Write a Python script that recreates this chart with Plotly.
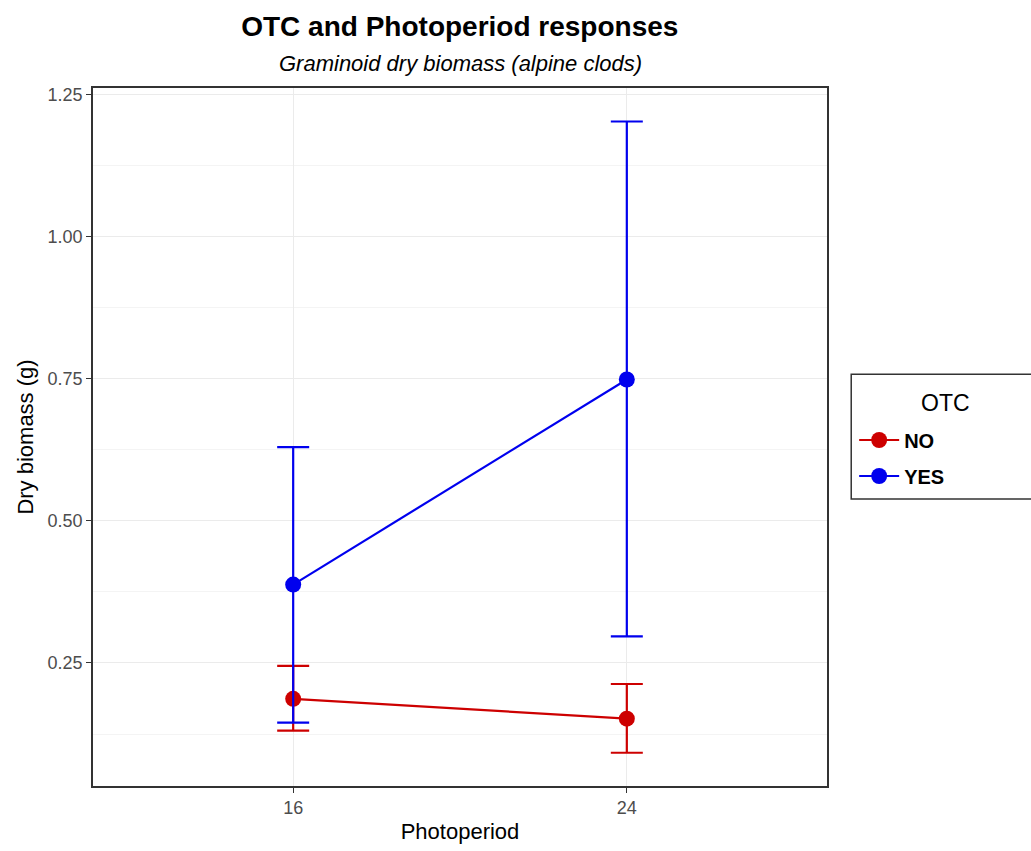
import plotly.graph_objects as go

photoperiod = ["16", "24"]
otc_groups = ["NO", "YES"]
mean_no = [0.187, 0.152]
upper_no = [0.245, 0.213]
lower_no = [0.131, 0.092]
mean_yes = [0.388, 0.749]
upper_yes = [0.630, 1.203]
lower_yes = [0.145, 0.297]
colors = {"NO": "#CD0000", "YES": "#0000EE"}

FONT = "Liberation Sans, Arial, sans-serif"

fig = go.Figure()
for name, m, up, lo, lg in [("NO", mean_no, upper_no, lower_no, "legend"),
                            ("YES", mean_yes, upper_yes, lower_yes, "legend2")]:
    fig.add_trace(go.Scatter(
        x=photoperiod, y=m, name="<b>" + name + "</b>", mode="lines+markers",
        line=dict(color=colors[name], width=2.2),
        marker=dict(color=colors[name], size=16),
        legend=lg,
        error_y=dict(type="data", symmetric=False,
                     array=[u - v for u, v in zip(up, m)],
                     arrayminus=[v - l for v, l in zip(m, lo)],
                     color=colors[name], thickness=2.2, width=16),
    ))

leg_common = dict(xanchor="left", yanchor="middle", bgcolor="rgba(0,0,0,0)", borderwidth=0,
                  font=dict(size=20, color="black", family=FONT), itemwidth=40)

fig.update_layout(
    width=1031, height=851,
    margin=dict(l=93, r=204, t=88, b=65),
    paper_bgcolor="white", plot_bgcolor="white",
    font=dict(family=FONT, color="#1a1a1a"),
    title=dict(text="<b>OTC and Photoperiod responses</b>", x=0.446, xanchor="center",
               y=0.969, yanchor="middle", font=dict(size=28, color="black")),
    showlegend=True,
    legend=dict(x=1.037, y=(786 - 440) / 698, **leg_common),
    legend2=dict(x=1.037, y=(786 - 476) / 698, **leg_common),
    xaxis=dict(type="category", range=[-0.6, 1.6], showgrid=True, gridcolor="#EBEBEB", gridwidth=1.2,
               ticks="outside", ticklen=5, tickcolor="#333333", tickfont=dict(size=18, color="#4D4D4D"),
               showline=True, linecolor="#333333", linewidth=1.5, mirror=True, zeroline=False,
               title=dict(text="Photoperiod", font=dict(size=22, color="black"), standoff=6)),
    yaxis=dict(range=[0.0335, 1.262], tickvals=[0.25, 0.5, 0.75, 1.0, 1.25],
               ticktext=["0.25", "0.50", "0.75", "1.00", "1.25"],
               showgrid=True, gridcolor="#EBEBEB", gridwidth=1.2,
               minor=dict(tickvals=[0.125, 0.375, 0.625, 0.875, 1.125], showgrid=True,
                          gridcolor="#F4F4F4", gridwidth=1, ticks=""),
               ticks="outside", ticklen=5, tickcolor="#333333", tickfont=dict(size=18, color="#4D4D4D"),
               showline=True, linecolor="#333333", linewidth=1.5, mirror=True, zeroline=False,
               title=dict(text="Dry biomass (g)", font=dict(size=22, color="black"), standoff=8)),
)

fig.add_annotation(text="<i>Graminoid dry biomass (alpine clods)</i>", xref="paper", yref="paper",
                   x=0.5, y=1.0, yshift=25, xanchor="center", yanchor="middle",
                   showarrow=False, font=dict(size=22, color="black"))
fig.add_annotation(text="OTC", xref="paper", yref="paper", x=1.161, y=0.549,
                   xanchor="center", yanchor="middle", showarrow=False,
                   font=dict(size=23, color="black"))
fig.add_shape(type="rect", xref="paper", yref="paper", x0=1.033, x1=1.32, y0=0.411, y1=0.59,
              line=dict(color="#333333", width=1.5), fillcolor="rgba(0,0,0,0)")

fig.write_html("out.html")
